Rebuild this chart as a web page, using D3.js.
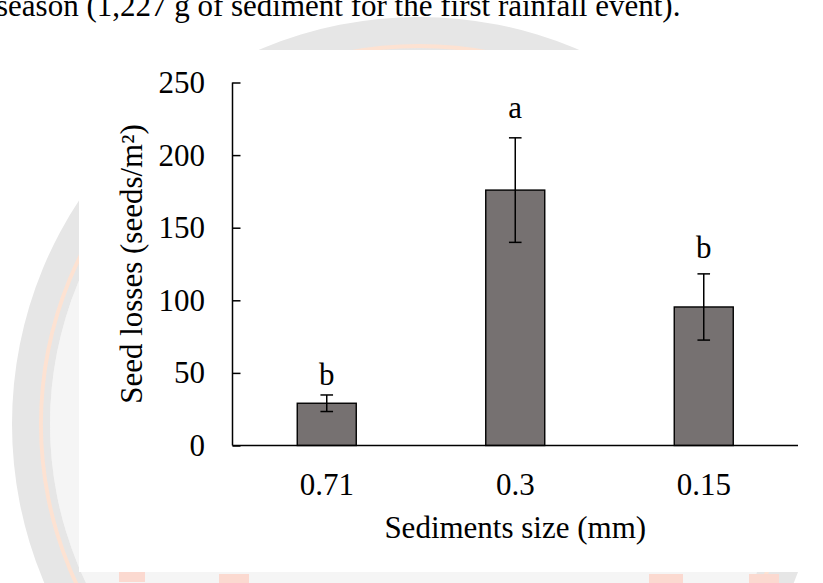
<!DOCTYPE html>
<html>
<head>
<meta charset="utf-8">
<script src="https://cdn.jsdelivr.net/npm/d3@7/dist/d3.min.js"></script>
<style>
  html, body { margin: 0; padding: 0; background: #fff; overflow: hidden; }
  svg { display: block; }
  text { font-family: "Liberation Serif", "Times New Roman", serif; fill: #000; }
</style>
</head>
<body>
<svg id="fig" width="823" height="583"></svg>
<script>
// Seed losses by sediment size class
const sizes = ["0.71", "0.3", "0.15"];
const seedLoss = [29.1, 175.9, 95.4];
const seedLossErr = [5.7, 36.0, 22.8];
const groupLetters = ["b", "a", "b"];
const yTicks = [0, 50, 100, 150, 200, 250];
const captionText = "season (1,227 g of sediment for the first rainfall event).";
const xTitle = "Sediments size (mm)";
const yTitle = "Seed losses (seeds/m²)";

const svg = d3.select("#fig");
const W = 823, H = 583;

// ---- faint page seal behind the figure ----
const seal = svg.append("g").attr("transform", "translate(419,424)");
seal.append("circle").attr("r", 369).attr("fill", "#f5f5f5");
seal.append("path")
  .attr("d", d3.arc()({innerRadius: 369, outerRadius: 407, startAngle: 0, endAngle: 2 * Math.PI}))
  .attr("fill", "#e6e6e6");
seal.append("path")
  .attr("d", d3.arc()({innerRadius: 376, outerRadius: 380, startAngle: 0, endAngle: 2 * Math.PI}))
  .attr("fill", "#fde2d2");
// zig-zag ornament inside the ring
const zig = d3.range(0, 9).map(i => {
  const a = -Math.PI / 2 - 0.25 - i * 0.09;
  const r = i % 2 ? 352 : 318;
  return [r * Math.cos(a), -r * Math.sin(a) * -1];
});
seal.append("path")
  .attr("d", d3.line()(zig))
  .attr("fill", "none").attr("stroke", "#e2e2e2").attr("stroke-width", 9);
// reddish ornaments along the lower rim
[[-300, 148, 26, 10], [-200, 150, 30, 9], [230, 150, 34, 10], [330, 150, 30, 9]].forEach(d => {
  seal.append("rect").attr("x", d[0]).attr("y", d[1]).attr("width", d[2]).attr("height", d[3])
    .attr("fill", "#fbd9d0");
});

// caption line from the running text
svg.append("text")
  .attr("x", -4).attr("y", 16)
  .style("font-size", "31px")
  .text(captionText);

// white figure panel
svg.append("rect").attr("x", 79).attr("y", 50).attr("width", W - 79).attr("height", 522)
  .attr("fill", "#fff");

// ---- chart ----
const x0 = 232.5, x1 = 798, yTop = 82.5, yBase = 445.5;

const x = d3.scaleBand()
  .domain(sizes)
  .range([x0, x1])
  .paddingInner(0.687)
  .paddingOuter(0.687 / 2);

const y = d3.scaleLinear().domain([0, 250]).range([yBase, yTop]);

const g = svg.append("g");

// bars
g.selectAll("rect.bar")
  .data(sizes)
  .join("rect")
  .attr("class", "bar")
  .attr("x", d => x(d))
  .attr("width", x.bandwidth())
  .attr("y", (d, i) => y(seedLoss[i]))
  .attr("height", (d, i) => y(0) - y(seedLoss[i]))
  .attr("fill", "#767171")
  .attr("stroke", "#000")
  .attr("stroke-width", 1.4);

// error bars
const cap = 6.3;
sizes.forEach((s, i) => {
  const cx = x(s) + x.bandwidth() / 2;
  const hi = y(seedLoss[i] + seedLossErr[i]);
  const lo = y(seedLoss[i] - seedLossErr[i]);
  const eb = g.append("g").attr("stroke", "#000").attr("stroke-width", 1.5);
  eb.append("line").attr("x1", cx).attr("x2", cx).attr("y1", hi).attr("y2", lo);
  eb.append("line").attr("x1", cx - cap).attr("x2", cx + cap).attr("y1", hi).attr("y2", hi);
  eb.append("line").attr("x1", cx - cap).attr("x2", cx + cap).attr("y1", lo).attr("y2", lo);
});

// significance letters above the error bars
const letterGap = [10, 20, 16];
g.selectAll("text.grp")
  .data(sizes)
  .join("text")
  .attr("class", "grp")
  .attr("x", d => x(d) + x.bandwidth() / 2)
  .attr("y", (d, i) => y(seedLoss[i] + seedLossErr[i]) - letterGap[i])
  .attr("text-anchor", "middle")
  .style("font-size", "31px")
  .text((d, i) => groupLetters[i]);

// y axis: ticks point inward, labels sit well left of the line
const yAxis = d3.axisRight(y).tickValues(yTicks).tickSize(8).tickFormat("");
const ya = svg.append("g").attr("transform", `translate(${x0},0)`).call(yAxis);
ya.select(".domain").attr("d", `M0,${yTop}V${yBase}`).attr("stroke", "#000").attr("stroke-width", 1.5);
ya.selectAll(".tick line").attr("stroke", "#000").attr("stroke-width", 1.5);

svg.append("g").selectAll("text")
  .data(yTicks)
  .join("text")
  .attr("x", 205)
  .attr("y", d => y(d) + 10.5)
  .attr("text-anchor", "end")
  .style("font-size", "31px")
  .text(d => d);

// x axis
const xAxis = d3.axisBottom(x).tickSize(0).tickPadding(0);
const xa = svg.append("g").attr("transform", `translate(0,${yBase})`).call(xAxis);
xa.select(".domain").attr("d", `M${x0},0H${x1}`).attr("stroke", "#000").attr("stroke-width", 1.4);
xa.selectAll(".tick text")
  .attr("y", 49.5)
  .attr("dy", null)
  .attr("font-family", null)
  .attr("font-size", null)
  .style("font-size", "31px")
  .style("font-family", '"Liberation Serif", "Times New Roman", serif')
  .attr("fill", "#000");

// axis titles
svg.append("text")
  .attr("x", (x0 + x1) / 2).attr("y", 538)
  .attr("text-anchor", "middle")
  .style("font-size", "31px")
  .text(xTitle);

svg.append("text")
  .attr("transform", "translate(142,264) rotate(-90)")
  .attr("text-anchor", "middle")
  .style("font-size", "31px")
  .text(yTitle);
</script>
</body>
</html>
